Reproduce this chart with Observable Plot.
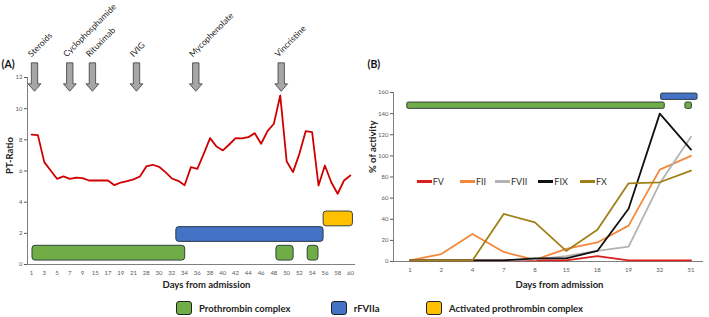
<!DOCTYPE html>
<html><head><meta charset="utf-8">
<script src="https://cdn.jsdelivr.net/npm/d3@7"></script>
<script src="https://cdn.jsdelivr.net/npm/@observablehq/plot@0.6"></script>
<style>
body{margin:0;background:#fff;font-family:Lato,"Open Sans",sans-serif}
#wrap{position:relative;width:709px;height:317px;overflow:hidden;background:#fff}
#a{position:absolute;left:0;top:0}
#b{position:absolute;left:360px;top:0}
svg{overflow:visible}
.li{position:absolute;display:flex;align-items:center;font-size:9px;color:#333;white-space:nowrap}
.sw{display:inline-block;width:15px;height:2.5px;margin-right:1px}
.bl{position:absolute;display:flex;align-items:center;font-size:9.5px;font-weight:bold;color:#222;white-space:nowrap}
.bx{display:inline-block;width:14px;height:12px;border:1px solid #222;border-radius:3px;margin-right:7px}
</style></head>
<body><div id="wrap"><div id="a"></div><div id="b"></div></div>
<script>
// ---------- Panel A data ----------
const daysA = [1,2,3,4,5,6,7,8,9,11,15,16,17,18,19,20,21,27,28,29,30,31,32,33,34,35,36,37,38,39,40,41,42,43,44,45,46,47,48,49,50,51,52,53,54,55,56,57,58,59,60];
const ptRatio = [8.34,8.3,6.57,6.03,5.5,5.65,5.5,5.58,5.54,5.39,5.39,5.4,5.39,5.09,5.26,5.35,5.46,5.65,6.29,6.4,6.27,5.93,5.52,5.37,5.09,6.25,6.14,7.1,8.11,7.57,7.32,7.7,8.11,8.09,8.17,8.43,7.75,8.56,9.03,10.85,6.63,5.93,7.1,8.56,8.5,5.07,6.35,5.28,4.54,5.39,5.71];
const drugNames = ["Steroids","Cyclophosphamide","Rituximab","IVIG","Mycophenolate","Vincristine"];
const drugPos = [0.47,6.0,9.55,16.46,25.76,39.15];
const therapyA = ["Prothrombin complex","rFVIIa","Activated prothrombin complex","Prothrombin complex","Prothrombin complex"];
const therapyAStart = [0.15,22.7,45.8,38.4,43.3];
const therapyAEnd = [24.1,45.8,50.4,41.1,45.0];
const therapyALow = [0.25,1.45,2.45,0.25,0.25];
const therapyAHigh = [1.2,2.4,3.4,1.2,1.2];
const yTicksA = [0,2,4,6,8,10,12];

// ---------- Panel B data ----------
const daysB = ["1","2","4","7","8","15","18","19","32","51"];
const factorNames = ["FV","FII","FVII","FIX","FX"];
const FV = [1,1,1,1,1,1,5,1,1,1];
const FII = [1,7,26,9,1.5,12,18,34,87,100];
const FVII = [1,1,1,1,2,5,10,14,74,118];
const FIX = [1,1,1,1,3,3,10,50,140,106];
const FX = [1,1,1,45,37,10,30,74,75,86];
const therapyB = ["Prothrombin complex","rFVIIa","Prothrombin complex"];
const therapyBStart = [-0.09,8.04,8.82];
const therapyBEnd = [8.16,9.21,9.03];
const therapyBLow = [144.5,153,144.5];
const therapyBHigh = [150.5,159,150.5];
const yTicksB = [0,20,40,60,80,100,120,140,160];

// ---------- styles ----------
const therapyColor = {"Prothrombin complex":"#70ad47","rFVIIa":"#4472c4","Activated prothrombin complex":"#ffc000"};
const factorColor = {FV:"#d9201f",FII:"#f4873c",FVII:"#b3b3b3",FIX:"#111111",FX:"#a08018"};
const FONT = "Lato, 'Open Sans', sans-serif";

const arrowSymbol = {draw(ctx){
  ctx.moveTo(-3.2,-14.2); ctx.lineTo(3.2,-14.2); ctx.lineTo(3.2,6.8); ctx.lineTo(6.4,6.8);
  ctx.lineTo(0,14.2); ctx.lineTo(-6.4,6.8); ctx.lineTo(-3.2,6.8); ctx.closePath();
}};

const barsA = therapyA.map((t,i)=>({t, x1:therapyAStart[i], x2:therapyAEnd[i], y1:therapyALow[i], y2:therapyAHigh[i]}));
const lineA = ptRatio.map((v,i)=>({i, v}));
const arrows = drugNames.map((n,i)=>({n, x:drugPos[i]}));
const xDomA = [-0.63, 50.8];

const plotA = Plot.plot({
  width:360, height:295, marginLeft:27, marginRight:5, marginTop:77, marginBottom:31,
  style:{fontFamily:FONT, fontSize:"6px", color:"#595959", background:"transparent", overflow:"visible"},
  x:{domain:xDomA, ticks:daysA.map((d,i)=>i).filter(i=>i%2===0), tickFormat:i=>daysA[i], tickSize:0, tickPadding:6, label:null},
  y:{domain:[0,12], ticks:yTicksA, tickSize:3, tickPadding:2, label:null},
  marks:[
    Plot.ruleY([0], {stroke:"#7f7f7f", strokeWidth:1}),
    Plot.ruleX([xDomA[0]], {stroke:"#7f7f7f", strokeWidth:1}),
    Plot.rect(barsA, {x1:"x1", x2:"x2", y1:"y1", y2:"y2", fill:d=>therapyColor[d.t], stroke:"#263238", strokeWidth:0.9, rx:3}),
    Plot.line(lineA, {x:"i", y:"v", stroke:"#d00000", strokeWidth:1.8}),
    Plot.dot(arrows, {x:"x", y:12.03, symbol:arrowSymbol, fill:"#a6a6a6", stroke:"#3b3b3b", strokeWidth:0.8}),
    Plot.text(arrows, {x:"x", y:13.29, dx:-3, text:"n", rotate:-45, textAnchor:"start", lineAnchor:"bottom", fontSize:8.5, fill:"#262626"}),
    Plot.text(["(A)"], {frameAnchor:"top-left", dx:-26, dy:-17, textAnchor:"start", fontSize:10.5, fontWeight:"bold", fill:"#111"}),
    Plot.text(["PT-Ratio"], {frameAnchor:"left", dx:-18, dy:3, rotate:-90, fontSize:9.5, fontWeight:"bold", fill:"#222"}),
    Plot.text(["Days from admission"], {frameAnchor:"bottom", dx:15, dy:23, fontSize:9.5, fontWeight:"bold", fill:"#222"})
  ]
});
document.getElementById("a").appendChild(plotA);

const barsB = therapyB.map((t,i)=>({t, x1:therapyBStart[i], x2:therapyBEnd[i], y1:therapyBLow[i], y2:therapyBHigh[i]}));
const seriesB = {FV, FII, FVII, FIX, FX};
const lineB = factorNames.flatMap(f=>seriesB[f].map((v,i)=>({f, i, v})));
const xDomB = [-0.53, 9.4];

const plotB = Plot.plot({
  width:349, height:295, marginLeft:33, marginRight:6, marginTop:92, marginBottom:34,
  style:{fontFamily:FONT, fontSize:"6px", color:"#595959", background:"transparent", overflow:"visible"},
  x:{domain:xDomB, ticks:daysB.map((d,i)=>i), tickFormat:i=>daysB[i], tickSize:0, tickPadding:6, label:null},
  y:{domain:[0,160], ticks:yTicksB, tickSize:3, tickPadding:2, label:null},
  marks:[
    Plot.ruleY([0], {stroke:"#7f7f7f", strokeWidth:1}),
    Plot.ruleX([xDomB[0]], {stroke:"#7f7f7f", strokeWidth:1}),
    Plot.rect(barsB, {x1:"x1", x2:"x2", y1:"y1", y2:"y2", fill:d=>therapyColor[d.t], stroke:"#263238", strokeWidth:0.9, rx:1.5}),
    Plot.line(lineB, {x:"i", y:"v", z:"f", stroke:d=>factorColor[d.f], strokeWidth:1.8}),
    Plot.text(["(B)"], {frameAnchor:"top-left", dx:-26, dy:-32, textAnchor:"start", fontSize:10.5, fontWeight:"bold", fill:"#111"}),
    Plot.text(["% of activity"], {frameAnchor:"left", dx:-21, dy:-4, rotate:-90, fontSize:9.5, fontWeight:"bold", fill:"#222"}),
    Plot.text(["Days from admission"], {frameAnchor:"bottom", dx:11, dy:26, fontSize:9.5, fontWeight:"bold", fill:"#222"})
  ]
});
document.getElementById("b").appendChild(plotB);

// in-panel legend for B
const legPos = [416.7, 460, 495, 538.3, 580];
factorNames.forEach((f,k)=>{
  const d = document.createElement("div");
  d.className = "li";
  d.style.left = legPos[k]+"px"; d.style.top = "176px";
  d.innerHTML = `<span class="sw" style="background:${factorColor[f]}"></span>${f}`;
  document.getElementById("wrap").appendChild(d);
});
// bottom legend
const botItems = ["Prothrombin complex","rFVIIa","Activated prothrombin complex"];
const botPos = [176, 330.7, 426];
botItems.forEach((t,k)=>{
  const d = document.createElement("div");
  d.className = "bl";
  d.style.left = botPos[k]+"px"; d.style.top = "301px";
  d.innerHTML = `<span class="bx" style="background:${therapyColor[t]}"></span>${t}`;
  document.getElementById("wrap").appendChild(d);
});
</script></body></html>
